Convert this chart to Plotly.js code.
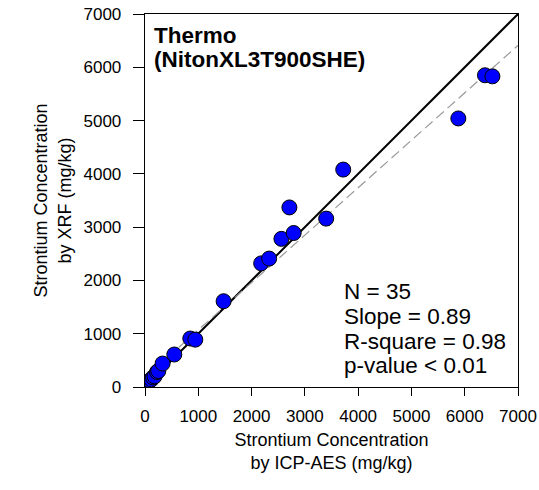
<!DOCTYPE html>
<html><head><meta charset="utf-8">
<script src="https://cdn.plot.ly/plotly-3.0.1.min.js"></script>
<style>html,body{margin:0;padding:0;background:#fff}</style>
</head><body>
<div id="chart" style="width:539px;height:490px"></div>
<script>
const icpAes = [90,120,150,180,225,250,330,550,850,944,1475,2180,2330,2560,2710,2790,3400,3720,5880,6380,6520];
const xrf    = [120,140,180,200,280,300,440,610,910,889,1610,2320,2410,2780,3370,2890,3160,4080,5040,5850,5830];
const oneToOne = [0,7000];
const regSlope = 0.89;
const regIntercept = 180;
const regX = [0,7000];
const tickVals = [0,1000,2000,3000,4000,5000,6000,7000];
const titleLines = ["Thermo","(NitonXL3T900SHE)"];
const statsText = ["N = 35","Slope = 0.89","R-square = 0.98","p-value < 0.01"];

const font = "Liberation Sans, Arial, sans-serif";
const traces = [
  {x: oneToOne, y: oneToOne, mode:'lines', line:{color:'black', width:2}, hoverinfo:'skip'},
  {x: regX, y: regX.map(v=>regSlope*v+regIntercept), mode:'lines', line:{color:'#999', width:1.2, dash:'10px,5px'}, hoverinfo:'skip'},
  {x: icpAes, y: xrf, mode:'markers', marker:{color:'#0000ff', size:15, line:{color:'black', width:1}}}
];
const axisCommon = {range:[0,7000], tickvals:tickVals, ticks:'outside', tickwidth:1, tickcolor:'black',
  showline:true, linecolor:'black', linewidth:1.3, mirror:true, showgrid:false, zeroline:false,
  tickfont:{family:font, size:17, color:'black'}};
const titleAnn = titleLines.map((t,i)=>({xref:'paper', yref:'paper', x:0.0196, y:[0.942,0.879][i],
  xanchor:'left', yanchor:'middle', showarrow:false, text:'<b>'+t+'</b>', font:{family:font, size:22.5, color:'black'}}));
const statY = [0.2566,0.1895,0.1225,0.0582];
const statAnn = statsText.map((t,i)=>({xref:'paper', yref:'paper', x:0.529, y:statY[i],
  xanchor:'left', yanchor:'middle', showarrow:false, text:t, font:{family:font, size:22.5, color:'black'}}));
const layout = {
  width:539, height:490, showlegend:false,
  margin:{l:145, r:21, t:14, b:103},
  paper_bgcolor:'white', plot_bgcolor:'white',
  xaxis: Object.assign({}, axisCommon, {ticklen:8, ticklabelstandoff:5,
    title:{text:'Strontium Concentration<br>by ICP-AES (mg/kg)', font:{family:font, size:18, color:'black'}, standoff:8}}),
  yaxis: Object.assign({}, axisCommon, {ticklen:11, ticklabelstandoff:8,
    title:{text:'Strontium Concentration<br>by XRF (mg/kg)', font:{family:font, size:18, color:'black'}, standoff:7}}),
  annotations: titleAnn.concat(statAnn)
};
Plotly.newPlot('chart', traces, layout, {staticPlot:true});
</script>
</body></html>
